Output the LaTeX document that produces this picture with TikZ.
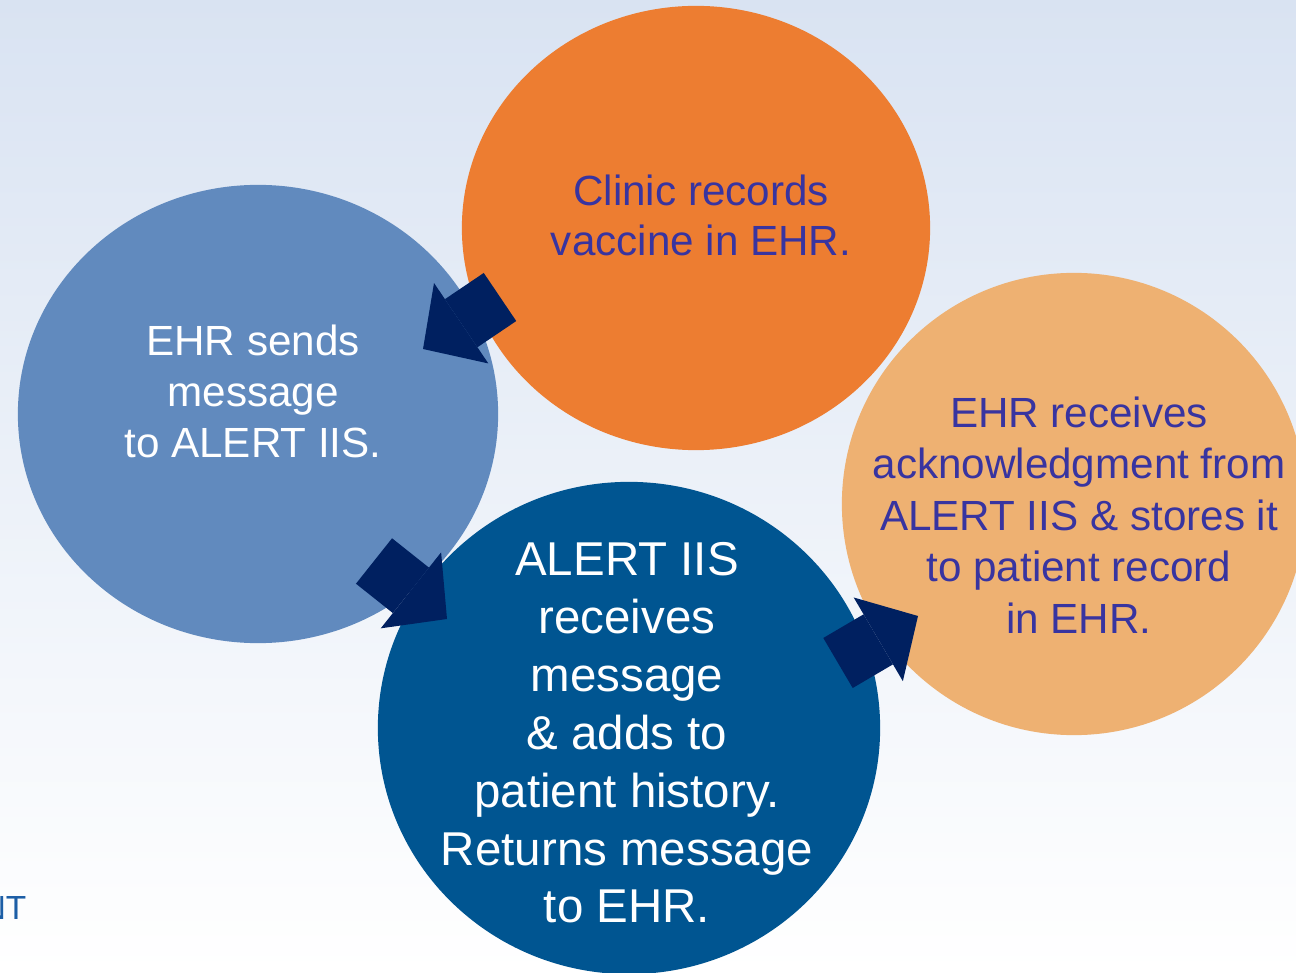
\documentclass[tikz,border=0pt]{standalone}
\usepackage{fontspec}
\setmainfont{Liberation Sans}
\usetikzlibrary{shapes.geometric,arrows.meta}

\definecolor{bgtop}{RGB}{217,227,242}
\definecolor{bgmid}{RGB}{236,241,248}
\definecolor{clinicorange}{RGB}{237,125,49}
\definecolor{sendblue}{RGB}{97,138,190}
\definecolor{iisblue}{RGB}{0,85,145}
\definecolor{ackorange}{RGB}{238,177,114}
\definecolor{arrownavy}{RGB}{0,32,96}
\definecolor{textpurple}{RGB}{56,52,160}
\definecolor{cornerblue}{RGB}{28,94,166}

\tikzset{
  bubble/.style={ellipse, inner sep=0pt, draw=none},
  whitetext/.style={text=white, align=center, inner sep=0pt},
  purpletext/.style={text=textpurple, align=center, inner sep=0pt},
  blockarrow/.style={draw=arrownavy, line width=16.5pt,
    -{Triangle[length=13.1pt, width=27.6pt, line width=0pt]}}
}

\begin{document}
\begin{tikzpicture}[x=0.01cm, y=-0.01cm]
  \useasboundingbox (0,0) rectangle (1296,973);
  % background
  \shade[top color=bgtop, middle color=bgmid, bottom color=white] (0,0) rectangle (1296,973);

  % the four steps
  \node[bubble, fill=clinicorange, minimum width=4.68cm, minimum height=4.44cm] (clinic) at (696,228) {};
  \node[bubble, fill=sendblue, minimum width=4.80cm, minimum height=4.58cm] (send) at (258,414) {};
  \node[bubble, fill=iisblue, minimum width=5.02cm, minimum height=4.92cm] (iis) at (629,728) {};
  \node[bubble, fill=ackorange, minimum width=4.64cm, minimum height=4.62cm] (ack) at (1074,504) {};

  \node[purpletext, font=\fontsize{12pt}{14.2pt}\selectfont] (clinictext) at (701,215)
    {Clinic records\\vaccine in EHR.};
  \node[whitetext, font=\fontsize{12pt}{14.5pt}\selectfont] (sendtext) at (253,391)
    {EHR sends\\message\\to ALERT IIS.};
  \node[whitetext, font=\fontsize{13.5pt}{16.45pt}\selectfont] (iistext) at (627,733)
    {ALERT IIS\\receives\\message\\\& adds to\\patient history.\\Returns message\\to EHR.};
  \node[purpletext, font=\fontsize{12pt}{14.65pt}\selectfont] (acktext) at (1079,515)
    {EHR receives\\acknowledgment from\\ALERT IIS \& stores it\\to patient record\\in EHR.};

  % arrows between the steps
  \coordinate (a1s) at (500,297);
  \coordinate (a1e) at (423,349);
  \coordinate (a2s) at (374,561);
  \coordinate (a2e) at (447,619);
  \coordinate (a3s) at (838,663);
  \coordinate (a3e) at (918,616);
  \draw[blockarrow] (a1s) -- (a1e);
  \draw[blockarrow] (a2s) -- (a2e);
  \draw[blockarrow] (a3s) -- (a3e);

  % cut-off corner text
  \node[anchor=east, text=cornerblue, inner sep=0pt, font=\fontsize{9.5pt}{10pt}\selectfont] (corner) at (27,908) {NT};
\end{tikzpicture}
\end{document}
